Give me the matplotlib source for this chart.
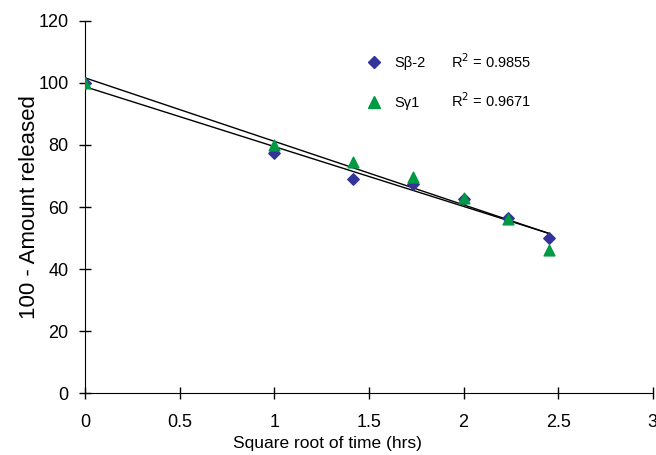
import numpy as np
import matplotlib
matplotlib.use("Agg")
import matplotlib.pyplot as plt
from matplotlib.lines import Line2D

plt.rcParams['font.family'] = ['Liberation Sans', 'DejaVu Sans']

# raiz cuadrada del tiempo
x = [0, 1, 1.414, 1.732, 2, 2.236, 2.449]
sb2 = [100, 77.4, 69.0, 67.3, 62.5, 56.4, 49.9]
sg1 = [100, 80.0, 74.6, 69.8, 63.0, 56.3, 46.1]
r2_labels = ['R$^2$ = 0.9855', 'R$^2$ = 0.9671']

azul = '#333399'
verde = '#009944'

fig = plt.figure(figsize=(6.56, 4.55), dpi=100)
ax = fig.add_axes([0.13, 0.136, 0.865, 0.818])

xs = np.array(x)
for y in (sb2, sg1):
    m, b = np.polyfit(xs, y, 1)
    ax.plot([xs.min(), xs.max()], [b + m * xs.min(), b + m * xs.max()],
            color='black', lw=1.0, zorder=2)

ax.scatter(x, sb2, marker='D', s=34, color=azul, zorder=3)
ax.scatter(x, sg1, marker='^', s=60, color=verde, zorder=4)

ax.set_xlim(0, 3)
ax.set_ylim(0, 120)
ax.set_xticks([0, 0.5, 1, 1.5, 2, 2.5, 3])
ax.set_xticklabels(['0', '0.5', '1', '1.5', '2', '2.5', '3'])
ax.set_yticks(range(0, 121, 20))
ax.spines['top'].set_visible(False)
ax.spines['right'].set_visible(False)
ax.tick_params(direction='inout', length=8, width=1, labelsize=13)
ax.tick_params(axis='x', pad=11)
ax.tick_params(axis='y', pad=8)
ax.set_xlabel('Square root of time (hrs)', fontsize=12.5)
ax.xaxis.set_label_coords(0.426, -0.115)
ax.set_ylabel('100 - Amount released', fontsize=16)
ax.yaxis.set_label_coords(-0.08, 0.5)

handles = [Line2D([], [], ls='none', marker='D', ms=6, color=azul),
           Line2D([], [], ls='none', marker='^', ms=8, color=verde)]
leg = ax.legend(handles, ['S\u03b2-2', 'S\u03b31'], loc='upper left',
                bbox_to_anchor=(0.47, 0.94), frameon=False, fontsize=10.5,
                labelspacing=1.75, handletextpad=0.8, handlelength=1.2)
ax.text(0.645, 0.89, r2_labels[0], transform=ax.transAxes, fontsize=10.5,
        va='center')
ax.text(0.645, 0.785, r2_labels[1], transform=ax.transAxes, fontsize=10.5,
        va='center')

fig.savefig('out.png', dpi=100)
